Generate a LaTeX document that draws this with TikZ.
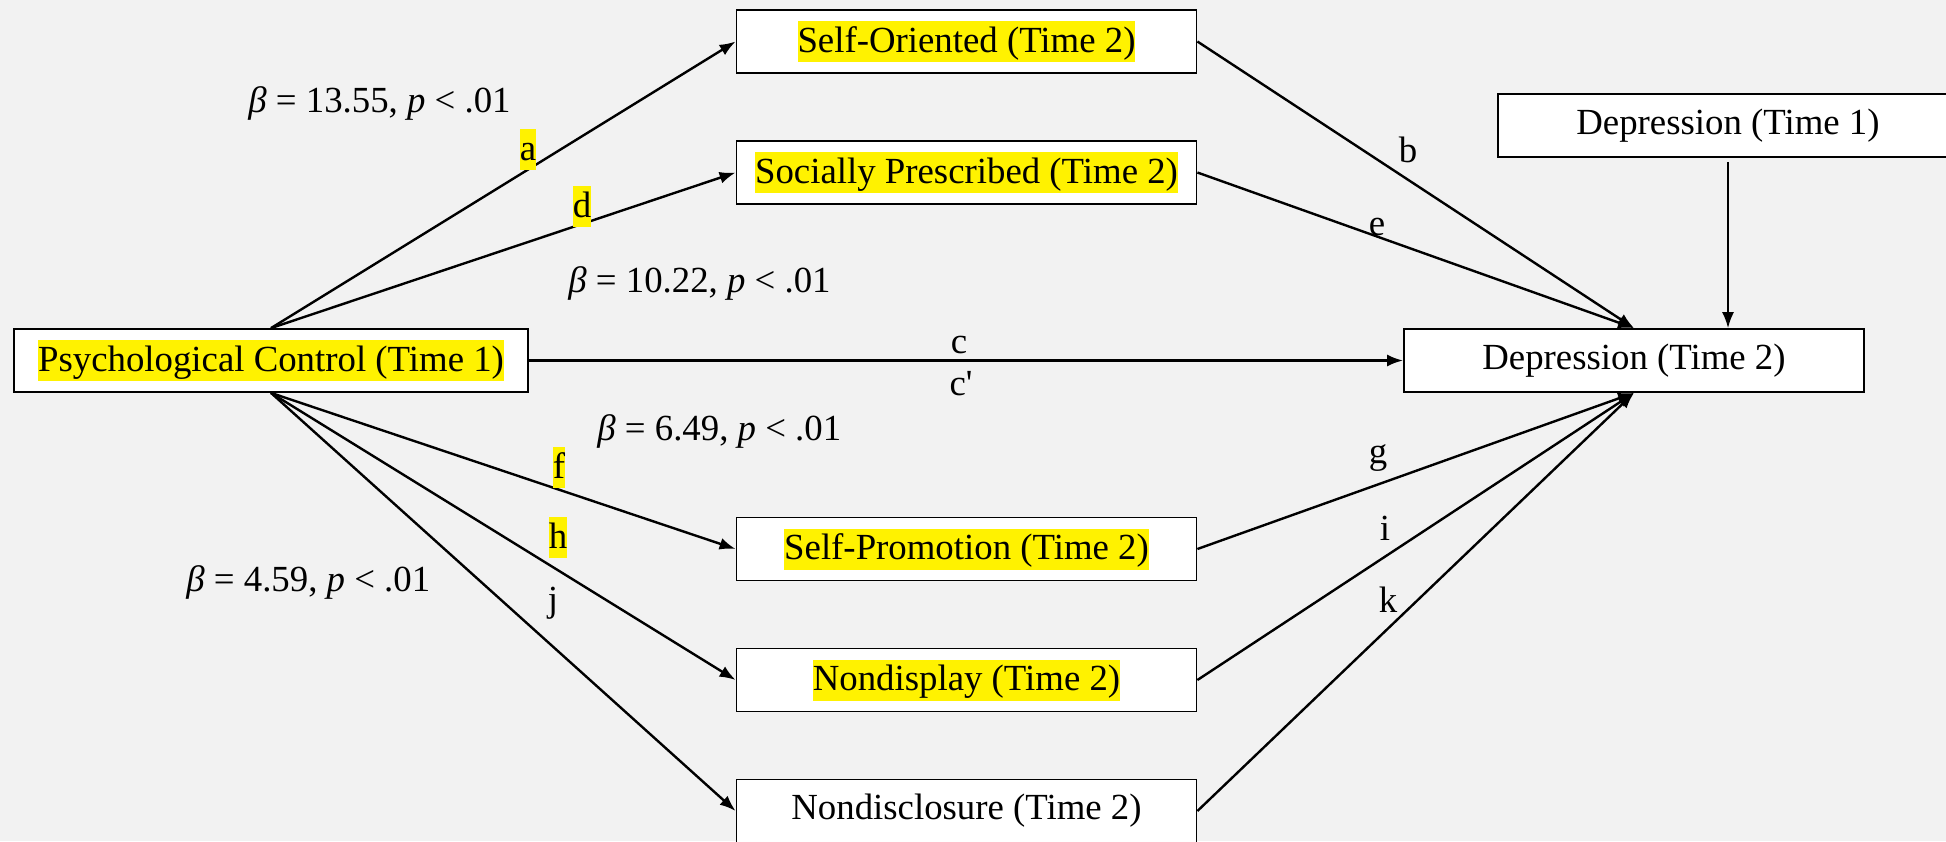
\documentclass[tikz,border=0pt]{standalone}
\usepackage{fontspec}
\setmainfont{Liberation Serif}
\usetikzlibrary{arrows.meta}
\definecolor{bggray}{HTML}{F2F2F2}
\newcommand{\hlt}[1]{{\setlength{\fboxsep}{0pt}\colorbox{yellow}{\rule[-5pt]{0pt}{20.5pt}#1}}}

\begin{document}
\begin{tikzpicture}[x=0.5pt, y=-0.5pt,
        every node/.style = {font=\fontsize{18.4}{22}\selectfont, inner sep=0pt},
        box/.style = {draw, fill=white, line width=0.9pt,
                      minimum width=230pt, minimum height=31.5pt},
        link/.style = {-{Latex[length=8pt,width=6pt]}, line width=1.2pt},
        lbl/.style = {anchor=base},
        stat/.style = {anchor=base west}
    ]
    \fill[bggray] (0,0) rectangle (1946,841);
    \useasboundingbox (0,0) rectangle (1946,841);
    \clip (0,0) rectangle (1946,841);

    % boxes
    \node[box, minimum width=257pt] (psych) at (271,360.5) {\hlt{Psychological Control (Time 1)}};
    \node[box] (selfor)   at (966.5,41.5)  {\hlt{Self-Oriented (Time 2)}};
    \node[box] (socpres)  at (966.5,172.5) {\hlt{Socially Prescribed (Time 2)}};
    \node[box] (selfprom) at (966.5,549)   {\hlt{Self-Promotion (Time 2)}};
    \node[box] (nondisp)  at (966.5,680)   {\hlt{Nondisplay (Time 2)}};
    \node[box] (nondisc)  at (966.5,811)   {Nondisclosure (Time 2)};
    \node[box] (dep1)     at (1728,125.5)  {Depression (Time 1)};
    \node[box] (dep2)     at (1634,360.5)  {Depression (Time 2)};

    % paths
    \draw[link] (psych.north) -- (selfor.west);
    \draw[link] (psych.north) -- (socpres.west);
    \draw[link] (psych.south) -- (selfprom.west);
    \draw[link] (psych.south) -- (nondisp.west);
    \draw[link] (psych.south) -- (nondisc.west);
    \draw[link] (psych.east) -- (dep2.west);
    \draw[link] (selfor.east) -- (dep2.north);
    \draw[link] (socpres.east) -- (dep2.north);
    \draw[link] (selfprom.east) -- (dep2.south);
    \draw[link] (nondisp.east) -- (dep2.south);
    \draw[link] (nondisc.east) -- (dep2.south);
    \draw[link, line width=0.9pt, shorten <=2pt] (dep1.south) -- (dep2.north -| dep1.south);

    % path labels
    \node[lbl] (la) at (528,160) {\hlt{a}};
    \node[lbl] (ld) at (582,217) {\hlt{d}};
    \node[lbl] (lf) at (559,478) {\hlt{f}};
    \node[lbl] (lh) at (558,548) {\hlt{h}};
    \node[lbl] (lj) at (553,611) {j};
    \node[lbl] (lb) at (1408,162) {b};
    \node[lbl] (le) at (1377,235) {e};
    \node[lbl] (lc) at (959,353) {c};
    \node[lbl] (lcp) at (961,395) {c\textquotesingle};
    \node[lbl] (lg) at (1378,463) {g};
    \node[lbl] (li) at (1385,540) {i};
    \node[lbl] (lk) at (1388,612) {k};

    % coefficients
    \node[stat] (sa) at (248,112) {\textit{β} = 13.55, \textit{p} < .01};
    \node[stat] (sd) at (568,292) {\textit{β} = 10.22, \textit{p} < .01};
    \node[stat] (sf) at (597,440) {\textit{β} = 6.49, \textit{p} < .01};
    \node[stat] (sh) at (186,591) {\textit{β} = 4.59, \textit{p} < .01};
\end{tikzpicture}
\end{document}
